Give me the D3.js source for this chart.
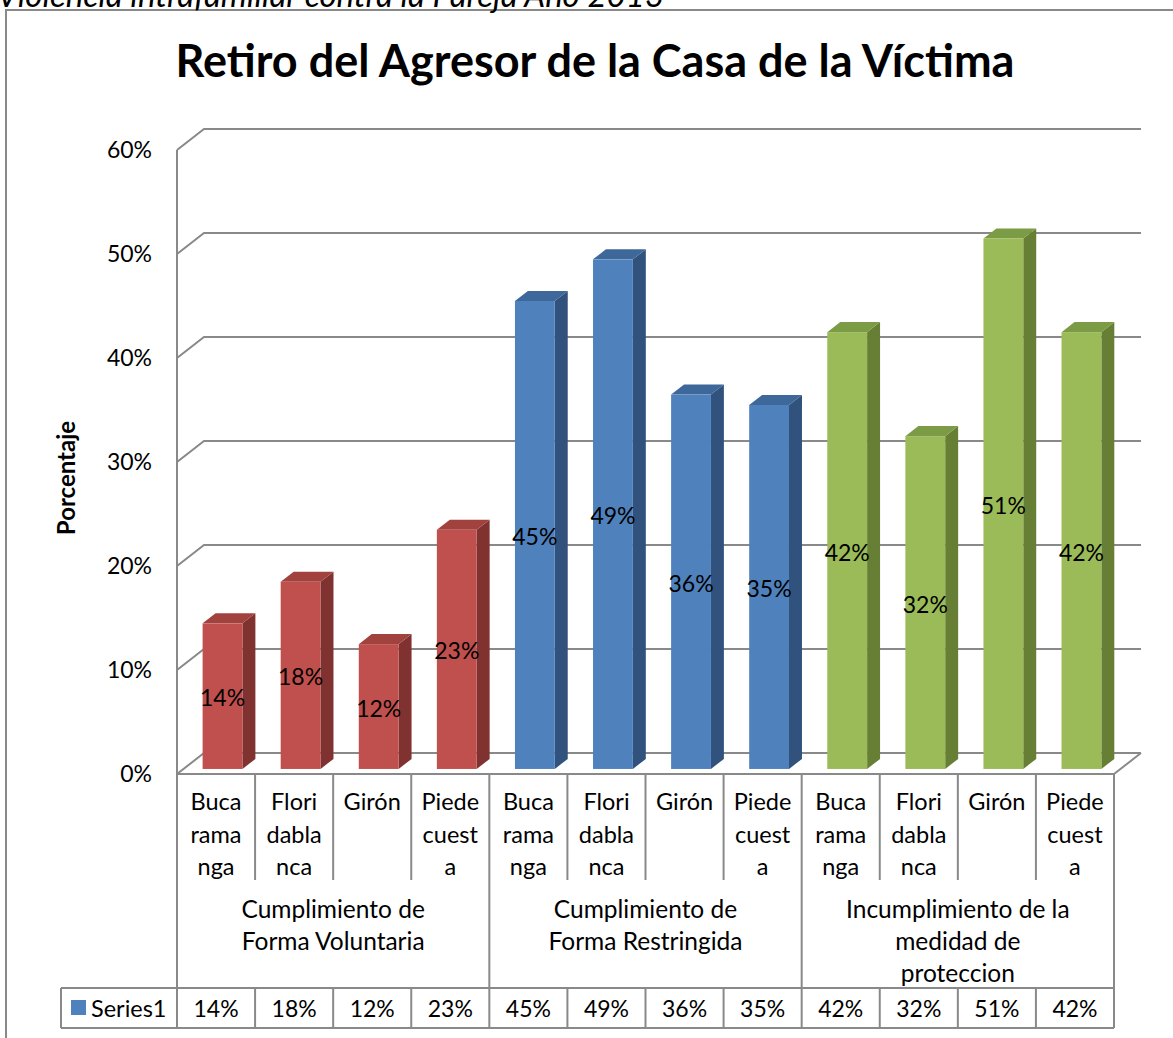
<!DOCTYPE html>
<html>
<head>
<meta charset="utf-8">
<script src="https://cdn.jsdelivr.net/npm/d3@7"></script>
<style>
  body { margin: 0; background: #fff; }
  svg { display: block; font-family: Lato, "Open Sans", sans-serif; }
</style>
</head>
<body>
<svg id="chart" width="1173" height="1038"></svg>
<script>
// Retiro del agresor: percentages by municipality and type of compliance
const cityLines = [["Buca", "rama", "nga"], ["Flori", "dabla", "nca"], ["Girón"], ["Piede", "cuest", "a"]];
const groupLines = [
  ["Cumplimiento de", "Forma Voluntaria"],
  ["Cumplimiento de", "Forma Restringida"],
  ["Incumplimiento de la", "medidad de", "proteccion"]
];
const values = [14, 18, 12, 23, 45, 49, 36, 35, 42, 32, 51, 42];
const yTicks = [0, 10, 20, 30, 40, 50, 60];
const seriesName = "Series1";
const groupColors = [
  { front: "#C0504D", top: "#A2423F", side: "#7F3230" },
  { front: "#4F81BD", top: "#3E679A", side: "#31527C" },
  { front: "#9BBB59", top: "#7C9B45", side: "#677F35" }
];

const svg = d3.select("#chart");
const gridColor = "#898989";

// plot geometry (front plane) and 3D depth offset
const plotLeft = 177, plotRight = 1114, plotTop = 150, plotBottom = 774;
const depthX = 27, depthY = -21;
const barT0 = 0.24, barT1 = 0.72;

const idx = values.map((d, i) => i);
const x = d3.scaleBand().domain(idx).range([plotLeft, plotRight]).padding(0);
const y = d3.scaleLinear().domain([0, 60]).range([plotBottom, plotTop]);
const barFrac = 0.51;

// outer chart frame
svg.append("rect")
  .attr("x", 6).attr("y", 10).attr("width", 1300).attr("height", 1200)
  .attr("fill", "none").attr("stroke", gridColor).attr("stroke-width", 2);

// header text above the chart frame
svg.append("text")
  .attr("x", -3).attr("y", 7)
  .attr("font-size", 33).attr("font-style", "italic")
  .text("Violencia intrafamiliar contra la Pareja Año 2013");

// title
svg.append("text")
  .attr("x", 595).attr("y", 77)
  .attr("text-anchor", "middle")
  .attr("font-size", 45).attr("font-weight", "bold")
  .text("Retiro del Agresor de la Casa de la Víctima");

// gridlines on back wall with side-wall diagonals
const grid = svg.append("g").attr("fill", "none").attr("stroke", gridColor).attr("stroke-width", 2);
yTicks.forEach(t => {
  const yy = y(t);
  grid.append("path")
    .attr("d", `M${plotLeft},${yy}L${plotLeft + depthX},${yy + depthY}L${plotRight + depthX},${yy + depthY}`);
});
// front left axis edge
grid.append("line").attr("x1", plotLeft).attr("x2", plotLeft).attr("y1", y(60)).attr("y2", y(0));
// floor right edge
grid.append("line").attr("x1", plotRight).attr("y1", y(0)).attr("x2", plotRight + depthX).attr("y2", y(0) + depthY);

// y axis labels
const yAxis = d3.axisLeft(y).tickValues(yTicks).tickFormat(d => d + "%").tickSize(0).tickPadding(25);
const ya = svg.append("g").attr("transform", `translate(${plotLeft},0)`).call(yAxis);
ya.select(".domain").remove();
ya.selectAll("text").attr("font-size", 23).attr("fill", "#000").attr("font-family", "Lato, sans-serif");

// y axis title
svg.append("text")
  .attr("transform", "translate(75,478) rotate(-90)")
  .attr("text-anchor", "middle")
  .attr("font-size", 24).attr("font-weight", "bold")
  .text("Porcentaje");

// 3D bars
const bars = svg.append("g");
values.forEach((v, i) => {
  const c = groupColors[Math.floor(i / 4)];
  const bw = x.bandwidth() * barFrac;
  const x0 = x(i) + (x.bandwidth() - bw) / 2 + depthX * barT0;
  const x1 = x0 + bw;
  const yb = y(0) + depthY * barT0;
  const yt = y(v) + depthY * barT0;
  const dx = depthX * (barT1 - barT0), dy = depthY * (barT1 - barT0);
  const g = bars.append("g");
  g.append("path").attr("fill", c.side)
    .attr("d", `M${x1},${yb}L${x1 + dx},${yb + dy}L${x1 + dx},${yt + dy}L${x1},${yt}Z`);
  g.append("path").attr("fill", c.top)
    .attr("d", `M${x0},${yt}L${x0 + dx},${yt + dy}L${x1 + dx},${yt + dy}L${x1},${yt}Z`);
  g.append("rect").attr("fill", c.front)
    .attr("x", x0).attr("y", yt).attr("width", bw).attr("height", yb - yt);
  g.append("text")
    .attr("x", (x0 + x1) / 2).attr("y", (yt + yb) / 2 + 1)
    .attr("text-anchor", "middle").attr("dominant-baseline", "central")
    .attr("font-size", 23)
    .text(v + "%");
});

// data table below the plot
const tbl = svg.append("g").attr("stroke", gridColor).attr("stroke-width", 2);
const rowCatBottom = 880, rowData = 988, rowEnd = 1028, legendLeft = 61;
tbl.append("line").attr("x1", plotLeft).attr("x2", plotRight).attr("y1", plotBottom).attr("y2", plotBottom);
tbl.append("line").attr("x1", legendLeft).attr("x2", plotRight).attr("y1", rowData).attr("y2", rowData);
tbl.append("line").attr("x1", legendLeft).attr("x2", plotRight).attr("y1", rowEnd).attr("y2", rowEnd);
tbl.append("line").attr("x1", legendLeft).attr("x2", legendLeft).attr("y1", rowData).attr("y2", rowEnd);
d3.range(values.length + 1).forEach(k => {
  const xx = k === values.length ? plotRight : x(k);
  const isGroup = k % 4 === 0;
  tbl.append("line").attr("x1", xx).attr("x2", xx)
    .attr("y1", isGroup ? plotBottom : rowData).attr("y2", rowEnd);
  if (!isGroup) {
    tbl.append("line").attr("x1", xx).attr("x2", xx).attr("y1", plotBottom).attr("y2", rowCatBottom);
  }
});

const txt = svg.append("g").attr("text-anchor", "middle").attr("fill", "#000");
values.forEach((v, i) => {
  const cx = x(i) + x.bandwidth() / 2;
  cityLines[i % 4].forEach((ln, j) => {
    txt.append("text").attr("x", cx).attr("y", 801 + j * 32.5)
      .attr("font-size", 23.5)
      .attr("dominant-baseline", "central").text(ln);
  });
  txt.append("text").attr("x", cx).attr("y", 1008)
    .attr("font-size", 23)
    .attr("dominant-baseline", "central").text(v + "%");
});
groupLines.forEach((lines, g) => {
  const cx = (x(g * 4) + (g === 2 ? plotRight : x(g * 4 + 4))) / 2;
  lines.forEach((ln, j) => {
    txt.append("text").attr("x", cx).attr("y", 908 + j * 32)
      .attr("font-size", 24.5)
      .attr("dominant-baseline", "central").text(ln);
  });
});

// legend key in the data row
svg.append("rect").attr("x", 71).attr("y", 1000).attr("width", 15).attr("height", 15).attr("fill", "#4F81BD");
svg.append("text").attr("x", 91).attr("y", 1008).attr("dominant-baseline", "central")
  .attr("font-size", 23.5).text(seriesName);
</script>
</body>
</html>
